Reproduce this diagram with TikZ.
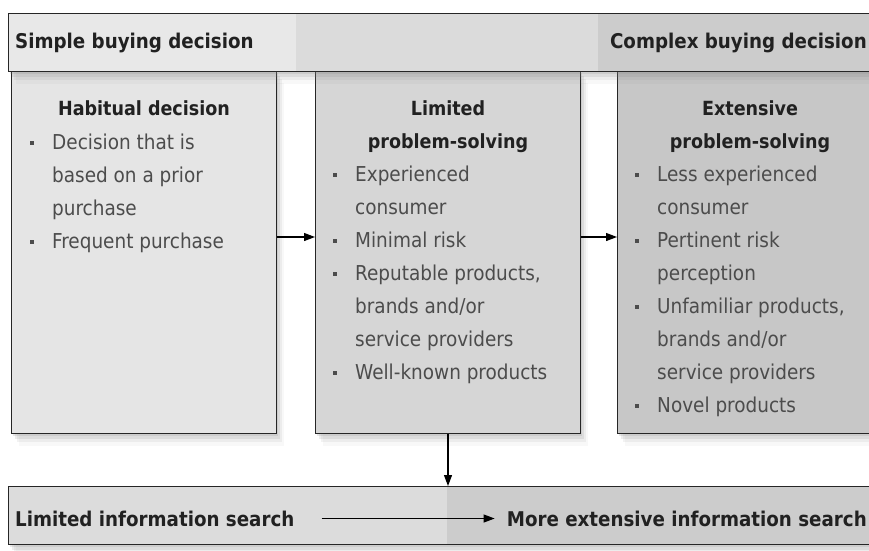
\documentclass[tikz,border=0pt]{standalone}
\usepackage{fontspec}
\setmainfont{DejaVu Sans Condensed}
\usetikzlibrary{positioning, arrows.meta, shadows}

\definecolor{panelA}{gray}{0.90}
\definecolor{panelB}{gray}{0.84}
\definecolor{panelC}{gray}{0.78}
\definecolor{barA}{gray}{0.91}
\definecolor{barB}{gray}{0.86}
\definecolor{barC}{gray}{0.80}
\definecolor{bodytext}{gray}{0.30}
\definecolor{headtext}{gray}{0.13}

% bullet and hanging indent for the lists
\newcommand{\bitem}{\makebox[22pt][l]{\rule[5pt]{3.5pt}{4pt}}}
\newcommand{\cont}{\hspace*{22pt}}

\tikzset{
  % soft shadow from a few stacked drop shadows
  soft shadow/.style={
    drop shadow={shadow xshift=1pt, shadow yshift=-2pt, opacity=.18},
    drop shadow={shadow xshift=3pt, shadow yshift=-5pt, opacity=.14},
    drop shadow={shadow xshift=5pt, shadow yshift=-8pt, opacity=.10},
    drop shadow={shadow xshift=7pt, shadow yshift=-12pt, opacity=.06}},
  panel/.style={draw=black!85, line width=1pt, anchor=north west,
    minimum width=265pt, minimum height=363pt, soft shadow},
  bar/.style={draw=black!85, line width=1pt, anchor=north west,
    minimum width=872pt, minimum height=58pt, soft shadow},
  head/.style={font=\bfseries\fontsize{19.5}{33}\selectfont, text=headtext,
    align=center, inner sep=0pt, anchor=north},
  items/.style={font=\fontsize{20.5}{33}\selectfont, text=bodytext,
    align=left, inner sep=0pt, anchor=north west},
  barlabel/.style={font=\bfseries\fontsize{20.3}{24}\selectfont, text=headtext,
    inner sep=0pt},
  flow/.style={-{Triangle[length=11pt,width=8pt]}, line width=1.1pt},
}

\begin{document}
\begin{tikzpicture}[x=1pt, y=-1pt]
\useasboundingbox (0,0) rectangle (869,550);

% the three kinds of decision
\node[panel, fill=panelA] (habit) at (11,70) {};
\node[panel, fill=panelB] (limited) at (315,70) {};
\node[panel, fill=panelC] (extensive) at (617,70) {};

\node[head] (habitH) at ([yshift=-30pt]habit.north) {Habitual decision};
\node[items] (habitL) at ([xshift=19pt, yshift=-64pt]habit.north west)
  {\bitem Decision that is\\ \cont based on a prior\\ \cont purchase\\
   \bitem Frequent purchase};

\node[head] (limitedH) at ([yshift=-30pt]limited.north) {Limited\\problem-solving};
\node[items] (limitedL) at ([xshift=18pt, yshift=-96pt]limited.north west)
  {\bitem Experienced\\ \cont consumer\\ \bitem Minimal risk\\
   \bitem Reputable products,\\ \cont brands and/or\\ \cont service providers\\
   \bitem Well-known products};

\node[head] (extensiveH) at ([yshift=-30pt]extensive.north) {Extensive\\problem-solving};
\node[items] (extensiveL) at ([xshift=18pt, yshift=-96pt]extensive.north west)
  {\bitem Less experienced\\ \cont consumer\\ \bitem Pertinent risk\\
   \cont perception\\ \bitem Unfamiliar products,\\ \cont brands and/or\\
   \cont service providers\\ \bitem Novel products};

% scale on top, simple to complex
\node[bar, fill=barA, path picture={
    \fill[barB] ([xshift=287pt]path picture bounding box.south west)
      rectangle ([xshift=589pt]path picture bounding box.north west);
    \fill[barC] ([xshift=589pt]path picture bounding box.south west)
      rectangle (path picture bounding box.north east);}] (buying) at (8,13) {};
\node[barlabel, anchor=west] (simple) at ([xshift=7pt]buying.west) {Simple buying decision};
\node[barlabel, anchor=east] (complex) at ([xshift=-14pt]buying.east) {Complex buying decision};

% information search below
\node[bar, fill=barA!95!black, path picture={
    \fill[barC] ([xshift=438pt]path picture bounding box.south west)
      rectangle (path picture bounding box.north east);}] (search) at (8,486) {};
\node[barlabel, anchor=west] (lis) at ([xshift=7pt, yshift=-3pt]search.west) {Limited information search};
\node[barlabel, anchor=east] (mis) at ([xshift=-14pt, yshift=-3pt]search.east) {More extensive information search};

\draw[flow] ([yshift=15pt]habit.east) -- ([yshift=15pt]limited.west);
\draw[flow] ([yshift=15pt]limited.east) -- ([yshift=15pt]extensive.west);
\draw[flow] (limited.south) -- (limited.south |- search.north);
\draw[flow, shorten <=27pt, shorten >=12pt] (lis.east) -- (mis.west);
\end{tikzpicture}
\end{document}
